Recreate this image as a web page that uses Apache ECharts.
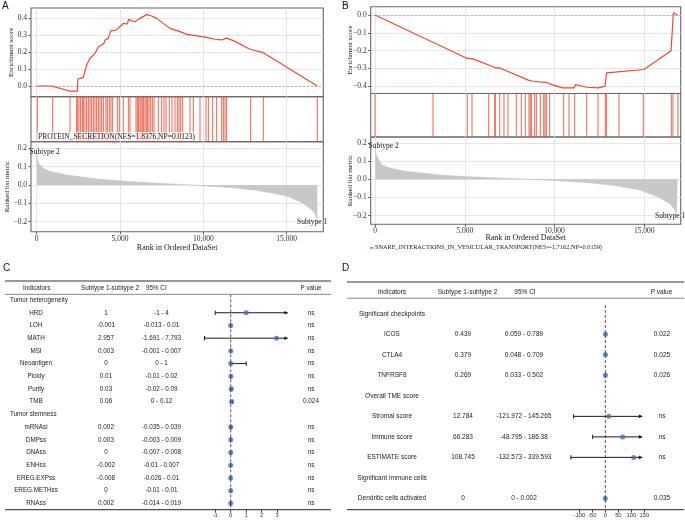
<!DOCTYPE html>
<html><head><meta charset="utf-8">
<script src="https://cdn.jsdelivr.net/npm/echarts@6/dist/echarts.min.js"></script>
<style>html,body{margin:0;padding:0;background:#fff}#c{width:685px;height:520px}</style>
</head><body><div id="c"></div>
<script>
// ---------------- DATA ----------------
const rankTicks = [0, 5000, 10000, 15000];
const esTicksA = [0, 0.1, 0.2, 0.3, 0.4];
const esTicksB = [-0.4, -0.3, -0.2, -0.1, 0];
const metricTicks = [-0.2, -0.1, 0, 0.1, 0.2];

const nameA = 'PROTEIN_SECRETION(NES=1.8376,NP=0.0123)';
const nameB = 'SNARE_INTERACTIONS_IN_VESICULAR_TRANSPORT(NES=-1.7162,NP=0.0159)';

const esCurveA = [[0,0],[900,0],[2000,-0.03],[2440,-0.03],[2480,0.041],[2800,0.051],[2920,0.059],[3000,0.124],[3200,0.163],[3500,0.192],[3700,0.231],[3900,0.241],[4040,0.251],[4100,0.271],[4300,0.28],[4440,0.324],[4760,0.329],[5000,0.349],[5200,0.369],[5440,0.365],[5520,0.392],[5700,0.384],[5900,0.378],[6200,0.398],[6600,0.42],[6900,0.412],[7200,0.398],[8000,0.339],[8600,0.320],[9000,0.304],[9400,0.298],[9900,0.29],[10200,0.286],[10700,0.275],[11100,0.271],[11240,0.276],[11400,0.282],[11800,0.267],[12800,0.216],[13600,0.196],[16840,0]];
const hitsA = [40,960,2000,2400,2460,2540,2640,2740,2800,2900,3000,3100,3200,3300,3400,3500,3600,3700,3800,3900,4000,4160,4240,4360,4460,4560,4840,4960,5200,5500,5600,5960,6040,6120,6200,6260,6340,6420,6500,6580,6660,6740,6840,6940,7040,7300,7500,7640,7760,7960,8120,8300,8440,8540,8640,8760,9200,9400,9800,10160,10300,10560,10800,11100,11200,11300,11400,12840,13600,16840];
const metricA = [[0,0.19],[20,0.16],[100,0.118],[400,0.091],[800,0.073],[1800,0.055],[2800,0.042],[3800,0.031],[5000,0.022],[6200,0.015],[7800,0.007],[9000,0.002],[10000,-0.004],[11800,-0.015],[13000,-0.027],[14200,-0.045],[15000,-0.06],[15800,-0.09],[16400,-0.127],[16700,-0.155],[16840,-0.19]];

const esCurveB = [[0,0],[5140,-0.244],[5160,-0.241],[5400,-0.245],[6590,-0.291],[6720,-0.297],[6925,-0.297],[7150,-0.306],[8540,-0.366],[8820,-0.372],[9100,-0.376],[9560,-0.379],[9930,-0.394],[10450,-0.409],[11100,-0.409],[11160,-0.391],[11790,-0.406],[12440,-0.409],[12810,-0.4],[12900,-0.325],[14980,-0.306],[16490,-0.201],[16620,0.013],[16860,0]];
const hitsB = [0,3231,5141,5403,6333,6668,6700,6946,7185,7408,7870,8149,8372,8578,8650,8706,8895,8985,9207,9397,9469,9541,9731,10511,10806,11123,11792,12421,12828,12884,13590,14944,16504,16598,16877];
const metricB = [[0,0.2],[20,0.16],[93,0.126],[371,0.08],[835,0.061],[1764,0.043],[3620,0.024],[4957,0.015],[6405,0.009],[8262,0.002],[9933,-0.006],[11976,-0.019],[13276,-0.033],[14760,-0.059],[15690,-0.093],[16432,-0.133],[16710,-0.17],[16803,-0.198],[16860,-0.205]];

const tableHeader = ['Indicators', 'Subtype 1-subtype 2', '95% CI', 'P value'];

const cRows  = ['Tumor heterogeneity','HRD','LOH','MATH','MSI','Neoantigen','Ploidy','Purity','TMB','Tumor stemness','mRNAsi','DMPss','DNAss','ENHss','EREG.EXPss','EREG.METHss','RNAss'];
const cGroup = [1,0,0,0,0,0,0,0,0,1,0,0,0,0,0,0,0];
const cDiff  = ['','1','-0.001','2.957','0.003','0','0.01','0.03','0.06','','0.002','0.003','0','-0.002','-0.008','0','0.002'];
const cCI    = ['','-1 - 4','-0.013 - 0.01','-1.691 - 7.793','-0.001 - 0.007','0 - 1','-0.01 - 0.02','-0.02 - 0.09','0 - 0.12','','-0.035 - 0.039','-0.003 - 0.009','-0.007 - 0.008','-0.01 - 0.007','-0.026 - 0.01','-0.01 - 0.01','-0.014 - 0.019'];
const cP     = ['','ns','ns','ns','ns','ns','ns','ns','0.024','','ns','ns','ns','ns','ns','ns','ns'];
const cTicks = [-1, 0, 1, 2, 3];

const dRows  = ['Significant checkpoints','ICOS','CTLA4','TNFRSF8','Overall TME score','Stromal score','Immune score','ESTIMATE score','Significant immune cells','Dendritic cells activated'];
const dGroup = [1,0,0,0,1,0,0,0,1,0];
const dDiff  = ['','0.439','0.379','0.269','','12.784','66.283','108.745','','0'];
const dCI    = ['','0.059 - 0.789','0.048 - 0.709','0.033 - 0.502','','-121.972 - 145.265','-48.795 - 186.38','-132.573 - 339.593','','0 - 0.002'];
const dP     = ['','0.022','0.025','0.026','','ns','ns','ns','','0.035'];
const dTicks = [-100, -50, 0, 50, 100, 150];

// ---------------- STYLE / LAYOUT ----------------
const SERIF = '"Liberation Serif","Times New Roman",serif';
const SANS = '"Liberation Sans",Arial,sans-serif';
const RED = '#E64B35';
const PT = '#4571a8';

const fmt1 = v => Math.abs(v) < 1e-9 ? '0.0' : (v < 0 ? '\u2212' : '') + Math.abs(v).toFixed(1);
const fmtComma = v => String(v).replace(/\B(?=(\d{3})+(?!\d))/g, ',');

const gsea = {
  A: {left: 31, width: 292.3, es: [8, 88.7], hit: [96.7, 45], met: [141.7, 90], xmin: -340, xmax: 17198,
      esMin: -0.063, esMax: 0.459, metMin: -0.2545, metMax: 0.236, esGap: 16.5, metGap: 20.8, xGap: 12},
  B: {left: 370.7, width: 310, es: [6.7, 86.8], hit: [93.5, 43.5], met: [137, 87.3], xmin: -240, xmax: 17028,
      esMin: -0.441, esMax: 0.0468, metMin: -0.2475, metMax: 0.233, esGap: 17.2, metGap: 17.2, xGap: 10}
};

const grids = [], xAxes = [], yAxes = [], series = [];
function addGrid(g) { grids.push(Object.assign({outerBoundsMode: 'none', containLabel: false}, g)); return grids.length - 1; }

const GRIDC = '#dedede';
function rankX(gi, P, withLabels) {
  return {type: 'value', gridIndex: gi, min: P.xmin, max: P.xmax, show: true,
    axisLine: {show: false, onZero: false},
    axisTick: {show: withLabels, customValues: rankTicks, length: 2.5, lineStyle: {color: '#333', width: 0.8}},
    axisLabel: {show: withLabels, customValues: rankTicks, formatter: fmtComma, fontFamily: SERIF, fontSize: 7.5, color: '#333', margin: 3},
    splitLine: {show: true, lineStyle: {color: GRIDC, width: 0.8}},
    name: withLabels ? 'Rank in Ordered DataSet' : '', nameLocation: 'middle', nameGap: P.xGap, nameMoveOverlap: false,
    nameTextStyle: {fontFamily: SERIF, fontSize: 8, color: '#1a1a1a'}};
}
function valY(gi, min, max, ticks, name, gap) {
  return {type: 'value', gridIndex: gi, min, max, show: true,
    axisLine: {show: false, onZero: false},
    axisTick: {show: true, customValues: ticks, length: 2.5, lineStyle: {color: '#333', width: 0.8}},
    axisLabel: {customValues: ticks, formatter: fmt1, fontFamily: SERIF, fontSize: 7.5, color: '#333', margin: 4},
    splitLine: {show: true, lineStyle: {color: GRIDC, width: 0.8}},
    name, nameLocation: 'middle', nameGap: gap, nameMoveOverlap: false,
    nameTextStyle: {fontFamily: SERIF, fontSize: 7, color: '#1a1a1a'}};
}

function buildGsea(P, esData, hits, metric, esTicks, sname) {
  const border = {show: true, borderColor: '#666', borderWidth: 1.1, backgroundColor: 'transparent'};
  const g0 = addGrid(Object.assign({left: P.left, top: P.es[0], width: P.width, height: P.es[1]}, border));
  const g1 = addGrid(Object.assign({left: P.left, top: P.hit[0], width: P.width, height: P.hit[1]}, border));
  const g2 = addGrid(Object.assign({left: P.left, top: P.met[0], width: P.width, height: P.met[1]}, border));
  const x0 = xAxes.push(rankX(g0, P, false)) - 1;
  const x1 = xAxes.push(rankX(g1, P, false)) - 1;
  const x2 = xAxes.push(rankX(g2, P, true)) - 1;
  const y0 = yAxes.push(valY(g0, P.esMin, P.esMax, esTicks, 'Enrichment score', P.esGap)) - 1;
  const y1 = yAxes.push({type: 'value', gridIndex: g1, min: 0, max: 1, show: false, axisLine: {onZero: false}}) - 1;
  const y2 = yAxes.push(valY(g2, P.metMin, P.metMax, metricTicks, 'Ranked list metric', P.metGap)) - 1;
  series.push({type: 'line', name: sname, xAxisIndex: x0, yAxisIndex: y0, data: esData, showSymbol: false, symbol: 'none',
    lineStyle: {color: RED, width: 1.2}, z: 5, silent: true,
    markLine: {silent: true, symbol: 'none', label: {show: false}, lineStyle: {color: '#aaa', type: [2, 2], width: 0.8}, data: [{yAxis: 0}]}});
  series.push({type: 'custom', xAxisIndex: x1, yAxisIndex: y1, data: hits.map(h => [h]), silent: true,
    renderItem: (params, api) => {
      const x = api.coord([api.value(0), 0])[0];
      const cs = params.coordSys;
      return {type: 'line', shape: {x1: x, y1: cs.y, x2: x, y2: cs.y + cs.height}, style: {stroke: RED, lineWidth: 1, opacity: 0.85}};
    }});
  series.push({type: 'line', xAxisIndex: x2, yAxisIndex: y2, data: metric, showSymbol: false, symbol: 'none', silent: true,
    lineStyle: {color: '#c4c4c4', width: 0.6}, areaStyle: {color: '#c8c8c8', opacity: 1}});
}
buildGsea(gsea.A, esCurveA, hitsA, metricA, esTicksA, nameA);
buildGsea(gsea.B, esCurveB, hitsB, metricB, esTicksB, nameB);

// ---------------- FOREST TABLES ----------------
function parseCI(s) { return s.split(' - ').map(Number); }

function buildForest(cfg) {
  const gT = addGrid({left: cfg.tLeft, top: cfg.top, width: cfg.tWidth, height: cfg.height});
  const gF = addGrid({left: cfg.fLeft, top: cfg.top, width: cfg.fWidth, height: cfg.height});
  const xT = xAxes.push({type: 'value', gridIndex: gT, min: cfg.tLeft, max: cfg.tLeft + cfg.tWidth, show: false, axisLine: {onZero: false}}) - 1;
  const yT = yAxes.push({type: 'value', gridIndex: gT, min: cfg.rowMin, max: cfg.rowMax, inverse: true, show: false, axisLine: {onZero: false}}) - 1;
  const xF = xAxes.push({type: 'value', gridIndex: gF, min: cfg.xMin, max: cfg.xMax, show: true, position: 'bottom',
    axisLine: {show: false, onZero: false}, splitLine: {show: false},
    axisTick: {show: true, customValues: cfg.ticks, length: 3, lineStyle: {color: '#222', width: 0.8}},
    axisLabel: {customValues: cfg.ticks, fontFamily: SANS, fontSize: 5.8, color: '#333', margin: 2.5}}) - 1;
  const yF = yAxes.push({type: 'value', gridIndex: gF, min: cfg.rowMin, max: cfg.rowMax, inverse: true, show: false, axisLine: {onZero: false}}) - 1;

  const txt = (x, y, text, align, size) => ({type: 'text', x, y,
    style: {text, fill: '#222', fontSize: size || cfg.font, fontFamily: SANS, align: align || 'center', verticalAlign: 'middle'}});

  // frame: rules + header
  series.push({type: 'custom', xAxisIndex: xT, yAxisIndex: yT, data: [[0]], silent: true,
    renderItem: (params, api) => {
      const X = v => api.coord([v, 0])[0], Y = r => api.coord([cfg.tLeft, r])[1];
      const rule = (r, c, w) => ({type: 'line', shape: {x1: X(cfg.ruleL), y1: Y(r), x2: X(cfg.ruleR), y2: Y(r)}, style: {stroke: c, lineWidth: w}});
      const yh = Y(cfg.headRow);
      return {type: 'group', children: [
        rule(cfg.rowMin, '#333', 1), rule(cfg.underRow, '#888', 1), rule(cfg.rowMax, '#222', 1),
        txt(X(cfg.hx[0]), yh, tableHeader[0], cfg.ha[0]), txt(X(cfg.hx[1]), yh, tableHeader[1], cfg.ha[1]),
        txt(X(cfg.hx[2]), yh, tableHeader[2], cfg.ha[2]), txt(X(cfg.hx[3]), yh, tableHeader[3], cfg.ha[3])
      ]};
    }});
  // rows
  series.push({type: 'custom', xAxisIndex: xT, yAxisIndex: yT, data: cfg.rows.map((r, i) => [i]), silent: true,
    renderItem: (params, api) => {
      const i = params.dataIndex;
      const X = v => api.coord([v, i])[0];
      const y = api.coord([cfg.tLeft, i])[1];
      if (cfg.group[i]) return txt(X(cfg.groupX), y, cfg.rows[i], cfg.groupAlign);
      return {type: 'group', children: [
        txt(X(cfg.cx[0]), y, cfg.rows[i]), txt(X(cfg.cx[1]), y, cfg.diff[i]),
        txt(X(cfg.cx[2]), y, cfg.ci[i]), txt(X(cfg.cx[3]), y, cfg.p[i])
      ]};
    }});
  // zero line
  series.push({type: 'custom', xAxisIndex: xF, yAxisIndex: yF, data: [[0]], silent: true, z: 1,
    renderItem: (params, api) => {
      const a = api.coord([0, cfg.zeroFrom]), b = api.coord([0, cfg.rowMax]);
      return {type: 'line', shape: {x1: a[0], y1: a[1], x2: b[0], y2: b[1]}, style: {stroke: '#555', lineWidth: 1, lineDash: [3, 2]}};
    }});
  // CIs
  const ciData = [], ptData = [];
  cfg.rows.forEach((r, i) => {
    if (cfg.group[i]) return;
    const [lo, hi] = parseCI(cfg.ci[i]);
    ciData.push([i, lo, hi]);
    ptData.push([Number(cfg.diff[i]), i]);
  });
  series.push({type: 'custom', xAxisIndex: xF, yAxisIndex: yF, data: ciData, silent: true, z: 2,
    renderItem: (params, api) => {
      const row = api.value(0), lo = api.value(1), hi = api.value(2);
      const l = Math.max(lo, cfg.xMin), h = Math.min(hi, cfg.clipHi);
      const p1 = api.coord([l, row]), p2 = api.coord([h, row]);
      const y = p1[1];
      const st = {stroke: '#1a1a1a', lineWidth: 1};
      const ch = [{type: 'line', shape: {x1: p1[0], y1: y, x2: p2[0], y2: y}, style: st}];
      if (lo >= cfg.xMin) ch.push({type: 'line', shape: {x1: p1[0], y1: y - 2.2, x2: p1[0], y2: y + 2.2}, style: st});
      if (hi <= cfg.clipHi) ch.push({type: 'line', shape: {x1: p2[0], y1: y - 2.2, x2: p2[0], y2: y + 2.2}, style: st});
      else ch.push({type: 'polygon', shape: {points: [[p2[0] + 1, y], [p2[0] - 3, y - 1.8], [p2[0] - 3, y + 1.8]]}, style: {fill: '#1a1a1a'}});
      return {type: 'group', children: ch};
    }});
  series.push({type: 'scatter', xAxisIndex: xF, yAxisIndex: yF, data: ptData, symbol: 'circle', symbolSize: cfg.ptSize,
    itemStyle: {color: PT}, z: 3, silent: true});
}

buildForest({
  tLeft: 0, tWidth: 340, top: 281, height: 228.7, rowMin: -1.5, rowMax: 16.5,
  fLeft: 203.6, fWidth: 83.7, xMin: -1.75, xMax: 3.65, clipHi: 3.65, ticks: cTicks,
  ruleL: 5, ruleR: 331, headRow: -0.95, underRow: -0.45, zeroFrom: -0.45,
  hx: [36.7, 110, 146, 311], ha: ['center', 'center', 'left', 'center'],
  cx: [36, 106, 161.5, 311], groupX: 10, groupAlign: 'left', font: 6.3, ptSize: 5,
  rows: cRows, group: cGroup, diff: cDiff, ci: cCI, p: cP
});
buildForest({
  tLeft: 340, tWidth: 345, top: 282, height: 227.7, rowMin: -1.55, rowMax: 9.55,
  fLeft: 570.2, fWidth: 74.2, xMin: -135, xMax: 150, clipHi: 140, ticks: dTicks,
  ruleL: 347, ruleR: 684, headRow: -1.06, underRow: -0.76, zeroFrom: -0.43,
  hx: [392, 467.5, 525, 661.5], ha: ['center', 'center', 'center', 'center'],
  cx: [392, 463, 524, 662], groupX: 392, groupAlign: 'center', font: 6.5, ptSize: 5,
  rows: dRows, group: dGroup, diff: dDiff, ci: dCI, p: dP
});

// ---------------- ANNOTATIONS ----------------
const letter = (t, x, y) => ({type: 'text', left: x, top: y, style: {text: t, font: '10px ' + SANS, fill: '#111'}});
const graphic = [
  letter('A', 2, 1), letter('B', 342, 1), letter('C', 3, 263), letter('D', 342, 263),
  {type: 'text', left: 37, top: 132, z: 10, style: {text: nameA, font: '7.5px ' + SERIF, fill: '#1a1a1a', backgroundColor: 'rgba(255,255,255,0.75)', padding: [1, 1, 0, 1]}},
  {type: 'text', left: 29.5, top: 148, z: 10, style: {text: 'Subtype 2', font: '7.5px ' + SERIF, fill: '#1a1a1a'}},
  {type: 'text', left: 297, top: 218.5, z: 10, style: {text: 'Subtype 1', font: '7.5px ' + SERIF, fill: '#1a1a1a'}},
  {type: 'text', left: 368.5, top: 142.5, z: 10, style: {text: 'Subtype 2', font: '7.5px ' + SERIF, fill: '#1a1a1a'}},
  {type: 'text', left: 655, top: 212, z: 10, style: {text: 'Subtype 1', font: '7.5px ' + SERIF, fill: '#1a1a1a'}},
  {type: 'rect', left: 370, top: 247.3, shape: {width: 3.5, height: 1.3}, style: {fill: RED}},
  {type: 'text', left: 375, top: 244.8, style: {text: nameB, font: '6.3px ' + SERIF, fill: '#1a1a1a'}}
];

const chart = echarts.init(document.getElementById('c'), null, {renderer: 'canvas', width: 685, height: 520});
chart.setOption({animation: false, backgroundColor: '#fff', grid: grids, xAxis: xAxes, yAxis: yAxes, series, graphic});
</script></body></html>
